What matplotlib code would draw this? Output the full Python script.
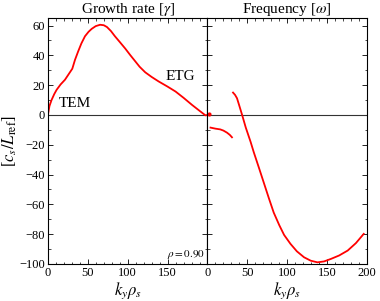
import matplotlib
matplotlib.use("Agg")
import matplotlib.pyplot as plt
from matplotlib.ticker import MultipleLocator, FixedLocator

plt.rcParams['font.family'] = ['Liberation Serif', 'DejaVu Serif']
plt.rcParams['mathtext.fontset'] = 'stix'

# growth rate (left panel)
ky_gam = [0, 2, 4.6, 8, 11, 16, 21.4, 26, 30.6, 34, 38, 42, 46.5, 51, 55, 60, 65.4, 70, 74, 79, 84, 90, 97,
          103, 109, 115, 122, 130, 138.7, 150, 160, 170, 180.7, 190, 197.5, 200]
gamma = [0, 6, 10, 14, 16.9, 20.5, 23.6, 27.3, 31, 37, 42.7, 48, 52.8, 55.8, 57.8, 59.6, 60.5, 60.2, 59, 56.3, 52.8, 49, 44.5,
         40.3, 36.3, 32.3, 28.6, 25.5, 22.5, 19, 15.7, 11.5, 6.7, 2.8, -0.3, 0]

# frequency (right panel), two branches
ky_om1 = [3.8, 10, 16, 20, 24.5, 28, 30.7]
omega1 = [-8.5, -9.2, -9.7, -10.5, -11.9, -13.4, -15]
ky_om2 = [32, 34.5, 37, 40, 43.4, 48, 54, 58, 64.5, 70.6, 77, 83, 90, 96, 104, 112, 121, 129.4, 137.8,
          146, 154.7, 165, 175.7, 186, 195.8]
omega2 = [15, 13.5, 11.2, 6, 0, -8.5, -18, -25, -35.5, -45.5, -56, -65.5, -74, -80.5, -86.5, -91.5, -95.5, -97.8, -98.9,
          -98.3, -96.6, -94.3, -91, -86, -79.8]

fig = plt.figure(figsize=(3.8, 3.01), dpi=100)
ax1 = fig.add_axes([0.126, 0.123, 0.42, 0.817])
ax2 = fig.add_axes([0.546, 0.123, 0.42, 0.817])

for ax in (ax1, ax2):
    ax.set_xlim(0, 200)
    ax.set_ylim(-100, 65)
    ax.axhline(0, color='#333333', lw=0.8)
    ax.xaxis.set_minor_locator(MultipleLocator(10))
    ax.yaxis.set_minor_locator(MultipleLocator(10))
    ax.yaxis.set_major_locator(MultipleLocator(20))
    ax.tick_params(which='both', direction='in', top=True, right=True, labelsize=9, pad=2)
    ax.tick_params(which='major', length=3.5, width=0.6)
    ax.tick_params(which='minor', length=1.8, width=0.5)
    for s in ax.spines.values():
        s.set_linewidth(0.8)
    ax.set_xlabel(r'$k_y\rho_s$', fontsize=12, labelpad=1)

ax1.xaxis.set_major_locator(FixedLocator([0, 50, 100, 150]))
ax2.xaxis.set_major_locator(MultipleLocator(50))
ax2.tick_params(labelleft=False)

ax1.plot(ky_gam, gamma, color='red', lw=1.3)
ax1.text(13, 5, 'TEM', fontsize=11)
ax1.text(148, 23.5, 'ETG', fontsize=11)
ax1.text(197, -95, r'$\rho=0.90$', fontsize=8, ha='right')
ax1.set_title(r'Growth rate [$\gamma$]', fontsize=11, pad=2)
ax1.set_ylabel(r'[$c_s/L_{\rm ref}$]', fontsize=12, labelpad=0)

ax2.plot(ky_om1, omega1, color='red', lw=1.3)
ax2.plot(ky_om2, omega2, color='red', lw=1.3)
ax2.plot([1.5], [0.5], 'o', color='red', ms=2)
ax2.set_title(r'Frequency [$\omega$]', fontsize=11, pad=2)

fig.savefig('out.png', dpi=100)
